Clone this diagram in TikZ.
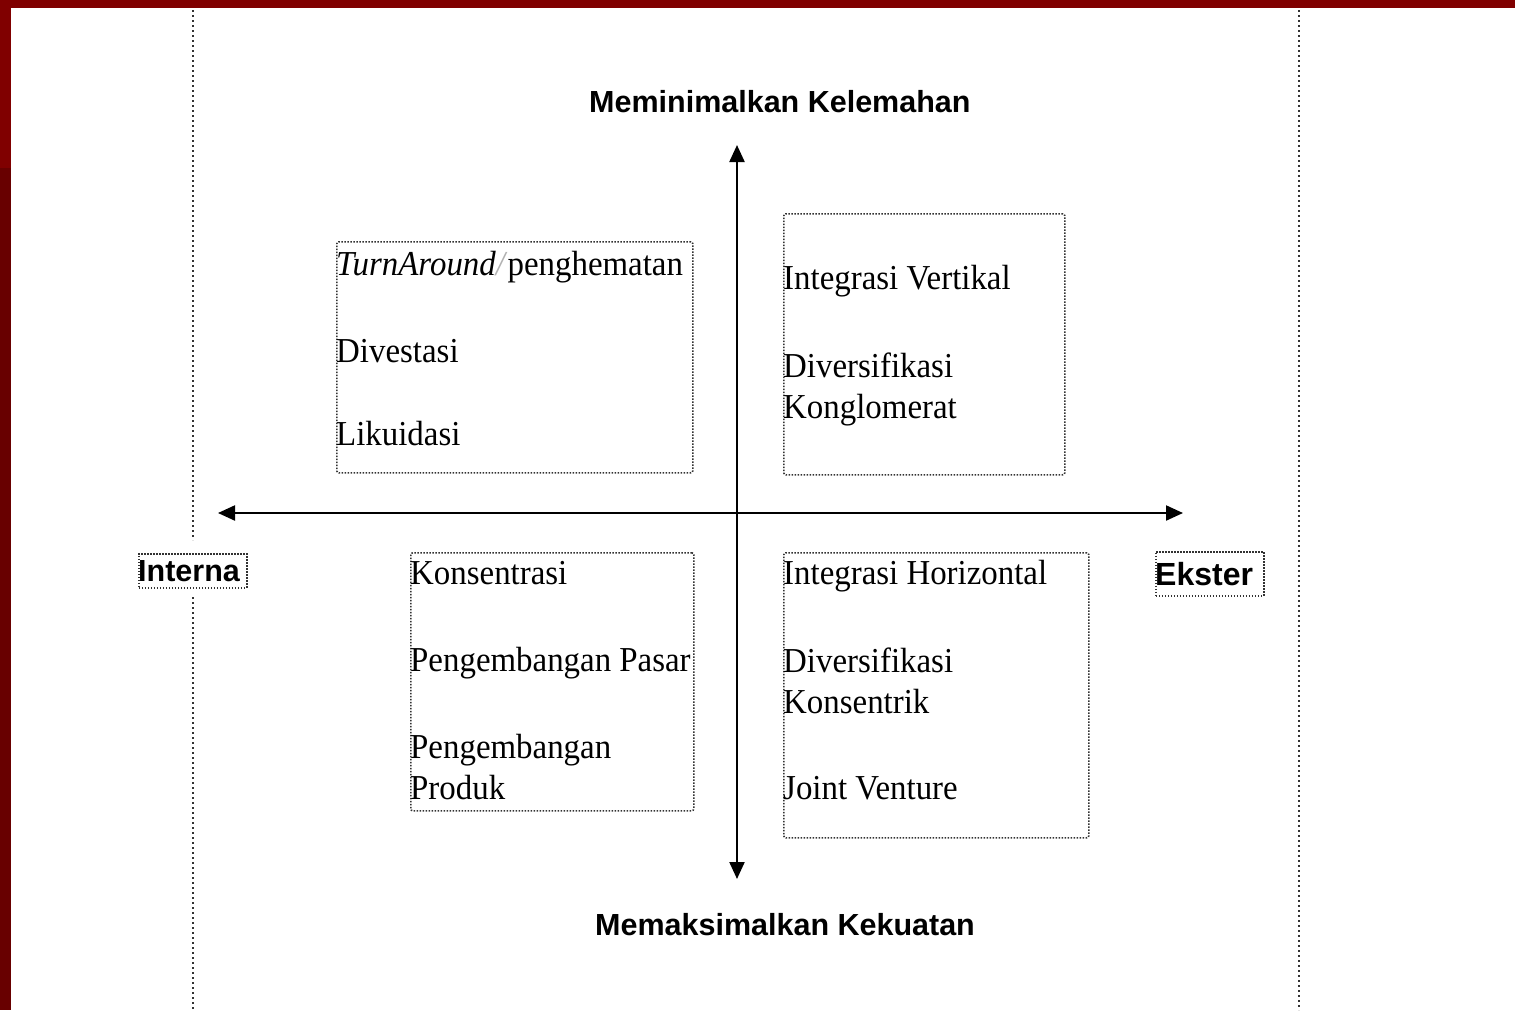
\documentclass[tikz,border=0pt]{standalone}
\usepackage{fontspec}
\setmainfont{Liberation Serif}[FakeStretch=0.94]
\newfontfamily\hdfont{Liberation Sans}
\usetikzlibrary{arrows.meta}
\definecolor{bandred}{RGB}{128,0,0}
\definecolor{banddark}{RGB}{104,0,0}
\definecolor{dotgray}{RGB}{50,50,50}
\tikzset{
  pagerule/.style={draw=dotgray, line width=2pt, dash pattern=on 2pt off 3pt},
  qbox/.style={draw=dotgray, line width=1.6pt, dash pattern=on 1.5pt off 1.5pt, rounded corners=2pt, inner sep=0pt, anchor=north west},
  lbox/.style={draw=dotgray, line width=1.6pt, dash pattern=on 1.5pt off 1.5pt, inner sep=0pt, anchor=north west},
  itemtxt/.style={anchor=base west, inner sep=0pt, font=\fontsize{35}{40}\selectfont},
  headtxt/.style={anchor=base west, inner sep=0pt, font=\hdfont\bfseries\fontsize{30.5}{36}\selectfont},
  axis/.style={line width=2.2pt, {Triangle[length=17pt,width=15pt]}-{Triangle[length=17pt,width=15pt]}}
}
\begin{document}
\begin{tikzpicture}[x=1pt,y=-1pt]
\useasboundingbox (0,0) rectangle (1515,1010);
\fill[white] (0,0) rectangle (1515,1010);
% red frame
\fill[bandred] (0,0) rectangle (1515,8);
\fill[bandred] (0,0) rectangle (11,168);
\fill[banddark] (0,168) rectangle (11,1010);
% page rules
\coordinate (l1) at (193,10);
\coordinate (l2) at (193,540);
\coordinate (l3) at (193,597);
\coordinate (l4) at (193,1010);
\coordinate (r1) at (1299,10);
\coordinate (r2) at (1299,1010);
\draw[pagerule] (l1) -- (l2);
\draw[pagerule] (l3) -- (l4);
\draw[pagerule] (r1) -- (r2);
% axes
\coordinate (top) at (737,145);
\coordinate (bot) at (737,879);
\coordinate (lft) at (218,513);
\coordinate (rgt) at (1183,513);
\draw[axis] (top) -- (bot);
\draw[axis] (lft) -- (rgt);
% headings
\node[headtxt] (hTop) at (589,112) {Meminimalkan Kelemahan};
\node[headtxt] (hBot) at (595,935) {Memaksimalkan Kekuatan};
\node[lbox, minimum width=108pt, minimum height=34pt] (iBox) at (138,553) {};
\node[headtxt] (iTxt) at (138,581) {Interna};
\node[lbox, minimum width=108pt, minimum height=44pt] (eBox) at (1155,551) {};
\node[headtxt, font=\hdfont\bfseries\fontsize{32}{36}\selectfont] (eTxt) at (1155,585) {Ekster};
% quadrant boxes
\node[qbox, minimum width=356pt, minimum height=231pt] (tl) at (336,241) {};
\node[qbox, minimum width=281pt, minimum height=261pt] (tr) at (783,213) {};
\node[qbox, minimum width=283pt, minimum height=258pt] (bl) at (410,552) {};
\node[qbox, minimum width=305pt, minimum height=285pt] (br) at (783,552) {};
% top-left texts
\node[itemtxt] (tl1) at (336,275) {\textit{TurnAround}\textcolor{gray!60}{\textit{/}}penghematan};
\node[itemtxt] (tl2) at (336,362) {Divestasi};
\node[itemtxt] (tl3) at (336,445) {Likuidasi};
% top-right texts
\node[itemtxt] (tr1) at (783,289) {Integrasi Vertikal};
\node[itemtxt] (tr2) at (783,377) {Diversifikasi};
\node[itemtxt] (tr3) at (783,418) {Konglomerat};
% bottom-left texts
\node[itemtxt] (bl1) at (410,584) {Konsentrasi};
\node[itemtxt] (bl2) at (410,671) {Pengembangan Pasar};
\node[itemtxt] (bl3) at (410,758) {Pengembangan};
\node[itemtxt] (bl4) at (410,799) {Produk};
% bottom-right texts
\node[itemtxt] (br1) at (783,584) {Integrasi Horizontal};
\node[itemtxt] (br2) at (783,672) {Diversifikasi};
\node[itemtxt] (br3) at (783,713) {Konsentrik};
\node[itemtxt] (br4) at (783,799) {Joint Venture};
\end{tikzpicture}
\end{document}
